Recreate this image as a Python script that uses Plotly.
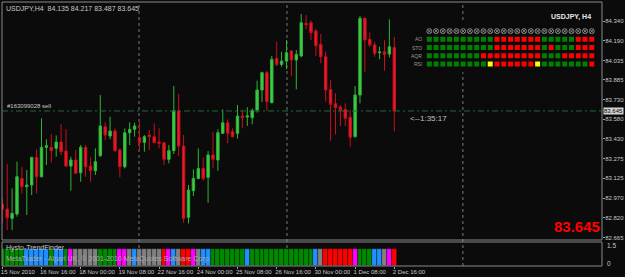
import plotly.graph_objects as go

# ---------------- data ----------------
symbol = "USDJPY"
timeframe = "H4"
# H4 bars 15 Nov 2010 08:00 ... 2 Dec 2010 16:00 (index k)
opens = [82.926, 82.887, 82.815, 82.849, 83.124, 83.060, 83.073, 83.286, 83.137, 83.364,
         83.364, 83.356, 83.405, 83.335, 83.219, 83.266, 83.168, 83.364, 83.219, 83.183,
         83.299, 83.523, 83.451, 83.490, 83.343, 83.214, 83.477, 83.503, 83.438, 83.402,
         83.459, 83.446, 83.405, 83.400, 83.271, 83.338, 83.647, 83.374, 82.823, 83.029,
         83.124, 83.201, 83.132, 83.305, 83.266, 83.472, 83.554, 83.485, 83.472, 83.606,
         83.598, 83.593, 83.652, 83.807, 83.941, 83.709, 84.052, 84.005, 84.031, 84.108,
         84.039, 84.070, 84.322, 84.327, 84.263, 84.160, 84.064, 83.812, 83.701, 83.675,
         83.657, 83.596, 83.446, 83.768, 84.361, 84.198, 84.155, 84.095, 84.103, 84.085,
         84.135]
highs = [82.970, 83.235, 83.047, 83.253, 83.214, 83.188, 83.292, 83.348, 83.588, 83.426,
         83.467, 83.456, 83.544, 83.505, 83.292, 83.343, 83.382, 83.382, 83.286, 83.356,
         83.768, 83.557, 83.601, 83.510, 83.356, 83.510, 83.557, 83.554, 83.562, 83.459,
         83.498, 83.549, 83.511, 83.405, 83.382, 83.838, 83.776, 83.459, 83.073, 83.194,
         83.356, 83.287, 83.335, 83.485, 83.503, 83.657, 83.580, 83.511, 83.691, 83.652,
         83.673, 83.665, 83.879, 83.949, 83.956, 84.070, 84.180, 84.103, 84.193, 84.116,
         84.116, 84.394, 84.386, 84.343, 84.278, 84.240, 84.103, 83.884, 83.781, 83.691,
         83.704, 83.652, 83.838, 84.379, 84.368, 84.250, 84.180, 84.142, 84.193, 84.353,
         84.217]
lows = [82.776, 82.725, 82.725, 82.828, 83.008, 82.841, 82.995, 83.008, 83.132, 83.227,
        83.248, 83.292, 83.304, 83.214, 83.029, 83.158, 83.098, 83.137, 83.098, 83.150,
        83.292, 83.420, 83.426, 83.330, 83.132, 83.201, 83.382, 83.446, 83.343, 83.330,
        83.343, 83.395, 83.356, 83.227, 83.240, 83.312, 83.297, 82.782, 82.776, 82.988,
        83.116, 83.106, 82.936, 83.201, 83.183, 83.467, 83.395, 83.441, 83.431, 83.511,
        83.529, 83.542, 83.632, 83.714, 83.647, 83.704, 83.992, 83.987, 83.967, 83.915,
        83.812, 84.059, 84.276, 84.193, 84.072, 84.013, 83.717, 83.415, 83.464, 83.529,
        83.529, 83.369, 83.441, 83.704, 83.948, 84.137, 84.064, 84.044, 83.956, 84.059,
        83.487]
closes = [82.885, 82.820, 82.854, 83.137, 83.060, 83.073, 83.286, 83.137, 83.364, 83.377,
          83.338, 83.405, 83.330, 83.219, 83.266, 83.163, 83.364, 83.214, 83.183, 83.253,
          83.529, 83.459, 83.490, 83.338, 83.214, 83.477, 83.503, 83.529, 83.402, 83.446,
          83.446, 83.400, 83.395, 83.271, 83.338, 83.647, 83.374, 82.815, 83.034, 83.124,
          83.201, 83.124, 83.305, 83.271, 83.477, 83.554, 83.472, 83.446, 83.606, 83.593,
          83.606, 83.647, 83.807, 83.941, 83.717, 84.044, 84.005, 84.031, 84.095, 84.039,
          84.082, 84.327, 84.312, 84.250, 84.149, 84.064, 83.807, 83.696, 83.670, 83.652,
          83.588, 83.441, 83.768, 84.361, 84.193, 84.155, 84.090, 84.100, 84.082, 84.142,
          83.645]

time_tick_bars = [0, 8, 16, 24, 32, 40, 48, 56, 64, 72, 80]
time_tick_labels = ["15 Nov 2010", "16 Nov 16:00", "18 Nov 00:00", "19 Nov 08:00",
                    "22 Nov 16:00", "24 Nov 00:00", "25 Nov 08:00", "26 Nov 16:00",
                    "30 Nov 00:00", "1 Dec 08:00", "2 Dec 16:00"]
price_ticks = [84.340, 84.190, 84.035, 83.885, 83.730, 83.580, 83.430,
               83.275, 83.125, 82.970, 82.820, 82.665]
separator_bars = [27.9, 58.1, 94.0]

order_ticket = "#163099028 sell"
order_price = 83.645
bar_timer = "<--1:35:17"

# Hysto-TrendFinder state per bar: G up, B weak up, M weak down, S neutral, R down
trend_state = list("GGGGGBBBBBGBBGMSSSSSGGGGMMSBSSSSSRMBSRRMSBBGGGGGGGB"
                   "GGGGGGGGGGGGGBSRRRRRRMGGGBBSMR")
trend_sub_labels = ["1.5", "0"]

# Dashboard panel (one row per indicator, 25 columns)
panel_names = ["AO", "STO", "AQR", "RSI"]
panel_AO = list("GGGGGGGGGGRRRRRRRGGGGGRRR")
panel_STO = list("GGGGGGGGGGRRRRRRRGRGGGRRR")
panel_AQR = list("GGGGGGGGRRRRRRRRRGGGRRRRR")
panel_RSI = list("GGGGGGGGGYRRRRRRYGGGGGGGR")

# ---------------- styling ----------------
BG = "#0a0b0a"
FONT = "Liberation Sans, Arial, sans-serif"
TXT = "#c8c8c8"
FRAME = "#8a8a8a"
state_color = {"G": "#008a00", "B": "#1e90ff", "M": "#ff00ff", "S": "#808080", "R": "#ff0000"}
panel_color = {"G": "#008000", "R": "#ff0000", "Y": "#ffff00"}

n = len(opens)
idx = list(range(n))
xr = [-0.06, 122.39]
main_dom = [26 / 264, 1.0]
sub_dom = [0.0, 24 / 264]

fig = go.Figure()
fig.add_trace(go.Candlestick(
    x=idx, open=opens, high=highs, low=lows, close=closes,
    increasing=dict(line=dict(color="#2fb53a", width=1), fillcolor="#3ccf46"),
    decreasing=dict(line=dict(color="#c8101e", width=1), fillcolor="#ec1c2c"),
    whiskerwidth=0, xaxis="x", yaxis="y", showlegend=False, hoverinfo="skip"))

fig.add_trace(go.Bar(
    x=idx, y=[1] * n, width=1.0,
    marker=dict(color=[state_color[s] for s in trend_state],
                line=dict(width=0.6, color="rgba(0,0,0,0.55)")),
    xaxis="x2", yaxis="y2", showlegend=False, hoverinfo="skip"))

# panel
ncol = len(panel_AO)
cols = list(range(ncol))
fig.add_trace(go.Scatter(
    x=cols, y=[0] * ncol, mode="markers", xaxis="x3", yaxis="y3",
    marker=dict(symbol="circle-x-open", size=5, color="#9a9a9a", line=dict(width=0.8, color="#9a9a9a")),
    showlegend=False, hoverinfo="skip"))
for r, row in enumerate([panel_AO, panel_STO, panel_AQR, panel_RSI]):
    fig.add_trace(go.Scatter(
        x=cols, y=[r + 1] * ncol, mode="markers", xaxis="x3", yaxis="y3",
        marker=dict(symbol="square", size=5, color=[panel_color[s] for s in row], line=dict(width=0)),
        showlegend=False, hoverinfo="skip"))

shapes = [
    dict(type="rect", xref="paper", yref="paper", x0=0, x1=1, y0=main_dom[0], y1=main_dom[1],
         line=dict(color=FRAME, width=1), layer="above"),
    dict(type="rect", xref="paper", yref="paper", x0=0, x1=1, y0=sub_dom[0], y1=sub_dom[1],
         line=dict(color=FRAME, width=1), layer="above"),
    dict(type="line", xref="paper", yref="y", x0=0, x1=1, y0=order_price, y1=order_price,
         line=dict(color="#1d6e3c", width=1, dash="6px,3px,2px,3px"), layer="above"),
]
for s in separator_bars:
    shapes.append(dict(type="line", xref="x", yref="paper", x0=s, x1=s, y0=0, y1=1,
                       line=dict(color="#7a7a7a", width=1, dash="dot"), layer="below"))

ann = [
    dict(text=f"{symbol},{timeframe}  {opens[-1]:.3f} {highs[-1]:.3f} {lows[-1]:.3f} {closes[-1]:.3f}",
         xref="paper", yref="paper", x=0, y=1, xanchor="left", yanchor="top", xshift=2, yshift=-1,
         showarrow=False, font=dict(size=7, color=TXT)),
    dict(text=order_ticket, xref="paper", yref="y", x=0, y=order_price, xanchor="left",
         yanchor="bottom", xshift=3, yshift=0, showarrow=False, font=dict(size=6, color=TXT)),
    dict(text=bar_timer, xref="x", yref="y", x=82.8, y=order_price, xanchor="left",
         yanchor="top", yshift=-1, showarrow=False, font=dict(size=8, color="#c0c0c0")),
    dict(text=f"{closes[-1]:.3f}", xref="paper", yref="y", x=1, y=closes[-1], xanchor="left",
         yanchor="middle", xshift=1, showarrow=False, bgcolor="#d4d4d4", borderpad=0,
         font=dict(size=6, color="#000000")),
    dict(text=f"<b>{closes[-1]:.3f}</b>", xref="paper", yref="paper", x=1, y=40 / 264,
         xanchor="right", yanchor="middle", xshift=0, showarrow=False,
         font=dict(size=15, color="#ff0000")),
    dict(text=f"<b>{symbol}, {timeframe}</b>", xref="paper", yref="paper", x=(593 - 2) / 600,
         y=(266 - 17) / 264, xanchor="right", yanchor="middle", showarrow=False,
         font=dict(size=7, color="#e8e8e8")),
    dict(text="Hysto-TrendFinder", xref="paper", yref="paper", x=0, y=sub_dom[1], xanchor="left",
         yanchor="top", xshift=2, yshift=0, showarrow=False, font=dict(size=7, color=TXT)),
    dict(text="MetaTrader - Alpari UK, © 2001-2010 MetaQuotes Software Corp.", xref="paper",
         yref="paper", x=0, y=7 / 264, xanchor="left", yanchor="middle", xshift=2,
         showarrow=False, font=dict(size=7, color="#a8a8a8")),
    dict(text=trend_sub_labels[0], xref="paper", yref="paper", x=1, y=21 / 264, xanchor="left",
         yanchor="middle", xshift=3, showarrow=False, font=dict(size=6.5, color=TXT)),
    dict(text=trend_sub_labels[1], xref="paper", yref="paper", x=1, y=3 / 264, xanchor="left",
         yanchor="middle", xshift=3, showarrow=False, font=dict(size=6.5, color=TXT)),
]
for r, name in enumerate(panel_names):
    ann.append(dict(text=name, xref="x3", yref="y3", x=-0.75, y=r + 1, xanchor="right",
                    yanchor="middle", showarrow=False, font=dict(size=5, color="#9a9a9a")))

axis_common = dict(showgrid=False, zeroline=False, fixedrange=True, showline=False,
                   automargin=False)
fig.update_layout(
    width=625, height=277,
    margin=dict(l=2, r=23, t=2, b=11, pad=0, autoexpand=False),
    paper_bgcolor=BG, plot_bgcolor=BG,
    font=dict(family=FONT, color=TXT, size=7),
    showlegend=False, bargap=0,
    xaxis=dict(domain=[0, 1], range=xr, anchor="y", showticklabels=False, ticks="",
               rangeslider=dict(visible=False), **axis_common),
    yaxis=dict(domain=main_dom, range=[82.648, 84.487], anchor="x", side="right",
               tickvals=price_ticks, ticktext=[f"{v:.3f}" for v in price_ticks],
               ticks="outside", ticklen=2, tickcolor="#a0a0a0", tickwidth=1,
               ticklabelstandoff=-1,
               tickfont=dict(size=6, color=TXT, family=FONT), **axis_common),
    xaxis2=dict(domain=[0, 1], range=xr, anchor="y2", tickvals=time_tick_bars,
                ticktext=time_tick_labels, ticks="outside", ticklen=2, tickcolor="#a0a0a0",
                tickangle=0, ticklabelposition="outside right", ticklabelshift=-2,
                tickfont=dict(size=6, color=TXT, family=FONT), **axis_common),
    yaxis2=dict(domain=sub_dom, range=[0, 1.41], anchor="x2", showticklabels=False, ticks="",
                **axis_common),
    xaxis3=dict(domain=[420.53 / 600, 596.55 / 600], range=[-1, 25], anchor="y3", visible=False,
                **axis_common),
    yaxis3=dict(domain=[0.7341, 0.9208], range=[5, -1], anchor="x3", visible=False,
                **axis_common),
    shapes=shapes, annotations=ann,
)
fig.write_html("out.html")
